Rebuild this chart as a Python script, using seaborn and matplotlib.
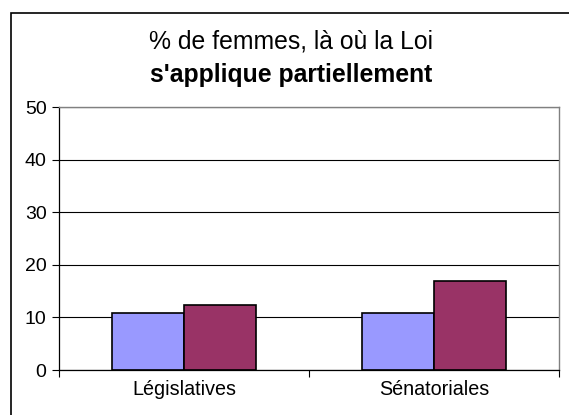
import pandas as pd
import matplotlib
matplotlib.use("Agg")
import matplotlib.pyplot as plt
import seaborn as sns
from matplotlib.patches import Rectangle

categories = ["Législatives", "Sénatoriales"]
series_names = ["Série 1", "Série 2"]
values_serie1 = [10.9, 10.9]
values_serie2 = [12.3, 16.9]
yticks = [0, 10, 20, 30, 40, 50]

df = pd.DataFrame({
    "categorie": categories * 2,
    "serie": [series_names[0]] * 2 + [series_names[1]] * 2,
    "pct": values_serie1 + values_serie2,
})

sns.set_theme(style="white")
plt.rcParams["font.family"] = ["Liberation Sans", "DejaVu Sans"]

fig = plt.figure(figsize=(5.69, 4.15), dpi=100)
ax = fig.add_axes([59 / 569, 1 - 370 / 415, 500 / 569, 263 / 415])

sns.barplot(data=df, x="categorie", y="pct", hue="serie",
            palette=["#9999FF", "#993366"], width=0.575,
            edgecolor="black", linewidth=1.2, saturation=1,
            legend=False, ax=ax)

ax.set_xlim(-0.5, 1.5)
ax.set_ylim(0, 50)
ax.set_yticks(yticks)
ax.set_xlabel("")
ax.set_ylabel("")
ax.yaxis.grid(True, color="black", linewidth=0.8)
ax.set_axisbelow(True)

ax.set_xticks([-0.5, 0.5, 1.5], minor=True)
ax.tick_params(axis="x", which="major", length=0, pad=7, labelsize=14.2, colors="black")
ax.tick_params(axis="x", which="minor", length=5, width=0.8, color="black", direction="out")
ax.tick_params(axis="y", which="major", length=5, width=0.8, color="black",
               direction="out", labelsize=14, labelcolor="black", pad=4)
ax.tick_params(bottom=True, left=True, which="both")

for side in ["left", "bottom"]:
    ax.spines[side].set_color("black")
    ax.spines[side].set_linewidth(0.9)
for side in ["top", "right"]:
    ax.spines[side].set_color("#808080")
    ax.spines[side].set_linewidth(1.0)

# title, two lines, second one bold
fig.text(0.511, 1 - 42 / 415, "% de femmes, là où la Loi", ha="center", va="center",
         fontsize=17.8, color="black")
fig.text(0.511, 1 - 75 / 415, "s'applique partiellement", ha="center", va="center",
         fontsize=17.8, fontweight="bold", color="black")

# chart area border, right and bottom fall outside the picture
fig.patches.append(Rectangle((11 / 569, -0.1), 1.2, 1.1 - 13 / 415,
                             transform=fig.transFigure, fill=False,
                             edgecolor="black", linewidth=1.2))

fig.savefig("out.png", dpi=100)
